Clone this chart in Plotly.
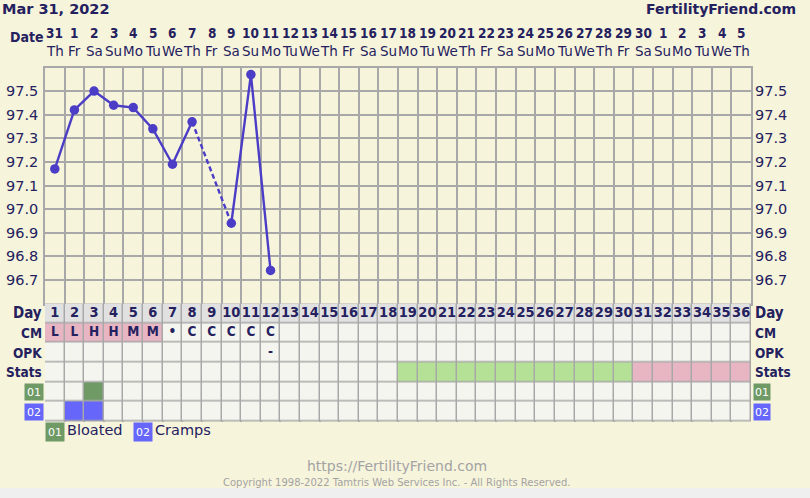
import plotly.graph_objects as go

W, H = 810, 498

# ---------------- data ----------------
chart_date = "Mar 31, 2022"
site_name = "FertilityFriend.com"
days = list(range(1, 37))
date_nums = [31, 1, 2, 3, 4, 5, 6, 7, 8, 9, 10, 11, 12, 13, 14, 15, 16, 17, 18,
             19, 20, 21, 22, 23, 24, 25, 26, 27, 28, 29, 30, 1, 2, 3, 4, 5]
weekdays = ["Th", "Fr", "Sa", "Su", "Mo", "Tu", "We", "Th", "Fr", "Sa", "Su", "Mo",
            "Tu", "We", "Th", "Fr", "Sa", "Su", "Mo", "Tu", "We", "Th", "Fr", "Sa",
            "Su", "Mo", "Tu", "We", "Th", "Fr", "Sa", "Su", "Mo", "Tu", "We", "Th"]
temps = [97.17, 97.42, 97.50, 97.44, 97.43, 97.34, 97.19, 97.37, None, 96.94, 97.57, 96.74]
temp_ticks = [96.7, 96.8, 96.9, 97.0, 97.1, 97.2, 97.3, 97.4, 97.5]
temp_range = [96.6, 97.6]
cm_labels = ["L", "L", "H", "H", "M", "M", "•", "C", "C", "C", "C", "C"]
menses_days = [1, 2, 3, 4, 5, 6]
opk_labels = ["", "", "", "", "", "", "", "", "", "", "", "-"]
stats_row = [""] * 18 + ["fertile"] * 12 + ["luteal"] * 6
row_names = ["Day", "CM", "OPK", "Stats"]
symptom_codes = ["01", "02"]
symptom_names = ["Bloated", "Cramps"]
symptom_days = [[3], [2, 3]]

# ---------------- style ----------------
BG = "#f7f4dc"
GRID = "#a8a8a8"
TEXT = "#24215e"
LINE = "#4b3dc6"
CELL = "#f5f5ef"
DAYROW = "#e1e1e1"
PINK = "#e8b5c3"
LGREEN = "#b4e196"
DGREEN = "#6f9a66"
BLUE = "#6666fa"
FOOT = "#a3a3a3"
FONT = "DejaVu Sans, Verdana, sans-serif"
BFONT = "DejaVu Sans Condensed, DejaVu Sans, sans-serif"


def fx(px):
    return px / W


def fy(py):
    return 1 - py / H


n = len(days)
fig = go.Figure()

# table cells as a heatmap
code_colors = [CELL, DAYROW, PINK, LGREEN, DGREEN, BLUE]
cs = []
for k, c in enumerate(code_colors):
    cs.append([k / len(code_colors), c])
    cs.append([(k + 1) / len(code_colors), c])
z = []
z.append([1] * n)
z.append([2 if d in menses_days else 0 for d in days])
z.append([0] * n)
z.append([3 if s == "fertile" else (2 if s == "luteal" else 0) for s in stats_row])
for sd, col in zip(symptom_days, [4, 5]):
    z.append([col if d in sd else 0 for d in days])
rows = list(range(len(z)))
fig.add_trace(go.Heatmap(x=days, y=rows, z=z, colorscale=cs, zmin=-0.5,
                         zmax=len(code_colors) - 0.5, showscale=False,
                         xgap=1.5, ygap=1.5, hoverinfo="skip",
                         xaxis="x", yaxis="y2"))

# table text
fig.add_trace(go.Scatter(x=days, y=[0] * n, text=[f"<b>{d}</b>" for d in days],
                         mode="text",
                         textfont=dict(family=BFONT, size=14.5, color=TEXT),
                         hoverinfo="skip", xaxis="x", yaxis="y2"))
tx, ty, tt = [], [], []
for d, lab in zip(days, cm_labels):
    tx.append(d); ty.append(1); tt.append(f"<b>{lab}</b>")
for d, lab in zip(days, opk_labels):
    tx.append(d); ty.append(2); tt.append(f"<b>{lab}</b>")
fig.add_trace(go.Scatter(x=tx, y=ty, text=tt, mode="text",
                         textfont=dict(family=BFONT, size=13.5, color=TEXT),
                         hoverinfo="skip", xaxis="x", yaxis="y2"))

# temperature line
tdays = days[:len(temps)]
fig.add_trace(go.Scatter(x=tdays, y=temps, mode="lines+markers", connectgaps=False,
                         line=dict(color=LINE, width=2.4),
                         marker=dict(color=LINE, size=9.5),
                         hoverinfo="skip", xaxis="x", yaxis="y"))
known = [(d, t) for d, t in zip(tdays, temps) if t is not None]
bx, by = [], []
for (d0, t0), (d1, t1) in zip(known, known[1:]):
    if d1 - d0 > 1:
        bx += [d0, d1, None]
        by += [t0, t1, None]
fig.add_trace(go.Scatter(x=bx, y=by, mode="lines",
                         line=dict(color=LINE, width=2.4, dash="5px,3px"),
                         hoverinfo="skip", xaxis="x", yaxis="y"))
# invisible trace for right axis
fig.add_trace(go.Scatter(x=[tdays[0]], y=[temps[0]], mode="markers",
                         marker=dict(opacity=0), hoverinfo="skip",
                         xaxis="x", yaxis="y3"))

x_edges = [d - 0.5 for d in days] + [days[-1] + 0.5]
temp_grid = [temp_range[0]] + temp_ticks + [temp_range[1]]
temp_text = [""] + [f"{t:.1f}" for t in temp_ticks] + [""]

fig.update_layout(
    width=W, height=H, margin=dict(l=0, r=0, t=0, b=0),
    paper_bgcolor=BG, plot_bgcolor=BG, showlegend=False,
    font=dict(family=FONT, color=TEXT),
    xaxis=dict(domain=[fx(45), fx(751)], range=[0.5, n + 0.5],
               tickmode="array", tickvals=x_edges, showticklabels=False,
               showgrid=True, gridcolor=GRID, gridwidth=1.5, zeroline=False,
               showline=True, linecolor=GRID, linewidth=1.5, mirror=True,
               ticks="", fixedrange=True),
    yaxis=dict(domain=[fy(303.5), fy(67.5)], range=temp_range,
               tickmode="array", tickvals=temp_grid, ticktext=temp_text,
               tickfont=dict(family=FONT, size=14.5, color=TEXT),
               showgrid=True, gridcolor=GRID, gridwidth=1.5, zeroline=False,
               showline=True, linecolor=GRID, linewidth=1.5, mirror=True,
               ticks="", ticklabelstandoff=2),
    yaxis3=dict(overlaying="y", side="right", anchor="x", range=temp_range,
                tickmode="array", tickvals=temp_grid, ticktext=temp_text,
                tickfont=dict(family=FONT, size=14.5, color=TEXT),
                showgrid=False, zeroline=False, showline=False, ticks="",
                ticklabelstandoff=3),
    yaxis2=dict(domain=[fy(421.5), fy(303.5)], range=[len(z) - 0.5, -0.5],
                showticklabels=False, showgrid=False, zeroline=False,
                showline=False, ticks="", anchor="x"),
)

# grey background for the table so the gaps render as grid lines
fig.add_shape(type="rect", xref="x domain", yref="y2 domain", x0=0, x1=1, y0=0, y1=1,
              fillcolor=GRID, line=dict(width=0), layer="below")
# light grey strip at very bottom of page
fig.add_shape(type="rect", xref="paper", yref="paper", x0=0, x1=1, y0=0, y1=fy(488),
              fillcolor="#efefef", line=dict(width=0), layer="below")

ann = []
ann.append(dict(text=f"<b>{chart_date}</b>", x=fx(0), y=fy(9), xanchor="left",
                font=dict(size=14.5)))
ann.append(dict(text=f"<b>{site_name}</b>", x=fx(798), y=fy(9), xanchor="right",
                font=dict(size=14)))
ann.append(dict(text="<b>Date</b>", x=fx(8), y=fy(37), xanchor="left",
                font=dict(family=BFONT, size=14)))
for d, dn, wd in zip(days, date_nums, weekdays):
    ann.append(dict(text=f"<b>{dn}</b>", x=d, xref="x", y=fy(33),
                    font=dict(family=BFONT, size=13.5)))
    ann.append(dict(text=wd, x=d, xref="x", y=fy(51), font=dict(size=13.5)))
for r, name in enumerate(row_names):
    ann.append(dict(text=f"<b>{name}</b>", x=fx(44), y=r, yref="y2",
                    xanchor="right", font=dict(family=BFONT, size=13.5 if r else 15)))
    ann.append(dict(text=f"<b>{name}</b>", x=fx(753), y=r, yref="y2",
                    xanchor="left", font=dict(family=BFONT, size=13.5 if r else 15)))
sym_colors = [DGREEN, BLUE]
for i, (code, col) in enumerate(zip(symptom_codes, sym_colors)):
    r = len(row_names) + i
    ann.append(dict(text=code, x=fx(43.5), y=r, yref="y2", xanchor="right",
                    bgcolor=col, width=16, height=14, borderpad=1,
                    font=dict(size=11, color="white")))
    ann.append(dict(text=code, x=fx(752.5), y=r, yref="y2", xanchor="left",
                    bgcolor=col, width=14, height=14, borderpad=1,
                    font=dict(size=11, color="white")))
leg_x = [45, 133]
for lx, code, name, col in zip(leg_x, symptom_codes, symptom_names, sym_colors):
    ann.append(dict(text=code, x=fx(lx), y=fy(432), xanchor="left",
                    bgcolor=col, width=16, height=16, borderpad=1,
                    font=dict(size=11, color="white")))
    ann.append(dict(text=name, x=fx(lx + 20), y=fy(430), xanchor="left",
                    font=dict(size=14.5)))
ann.append(dict(text="https://FertilityFriend.com", x=fx(397), y=fy(466),
                font=dict(size=14, color=FOOT)))
ann.append(dict(text="Copyright 1998-2022 Tamtris Web Services Inc. - All Rights Reserved.",
                x=fx(397), y=fy(482), font=dict(size=10, color=FOOT)))
for a in ann:
    a.setdefault("xref", "paper")
    a.setdefault("yref", "paper")
    a.setdefault("showarrow", False)
    a.setdefault("yanchor", "middle")
    a.setdefault("xanchor", "center")
fig.update_layout(annotations=ann)

fig.write_html("out.html", config={"displayModeBar": False},
               post_script="document.body.style.margin='0';document.body.style.overflow='hidden';")
